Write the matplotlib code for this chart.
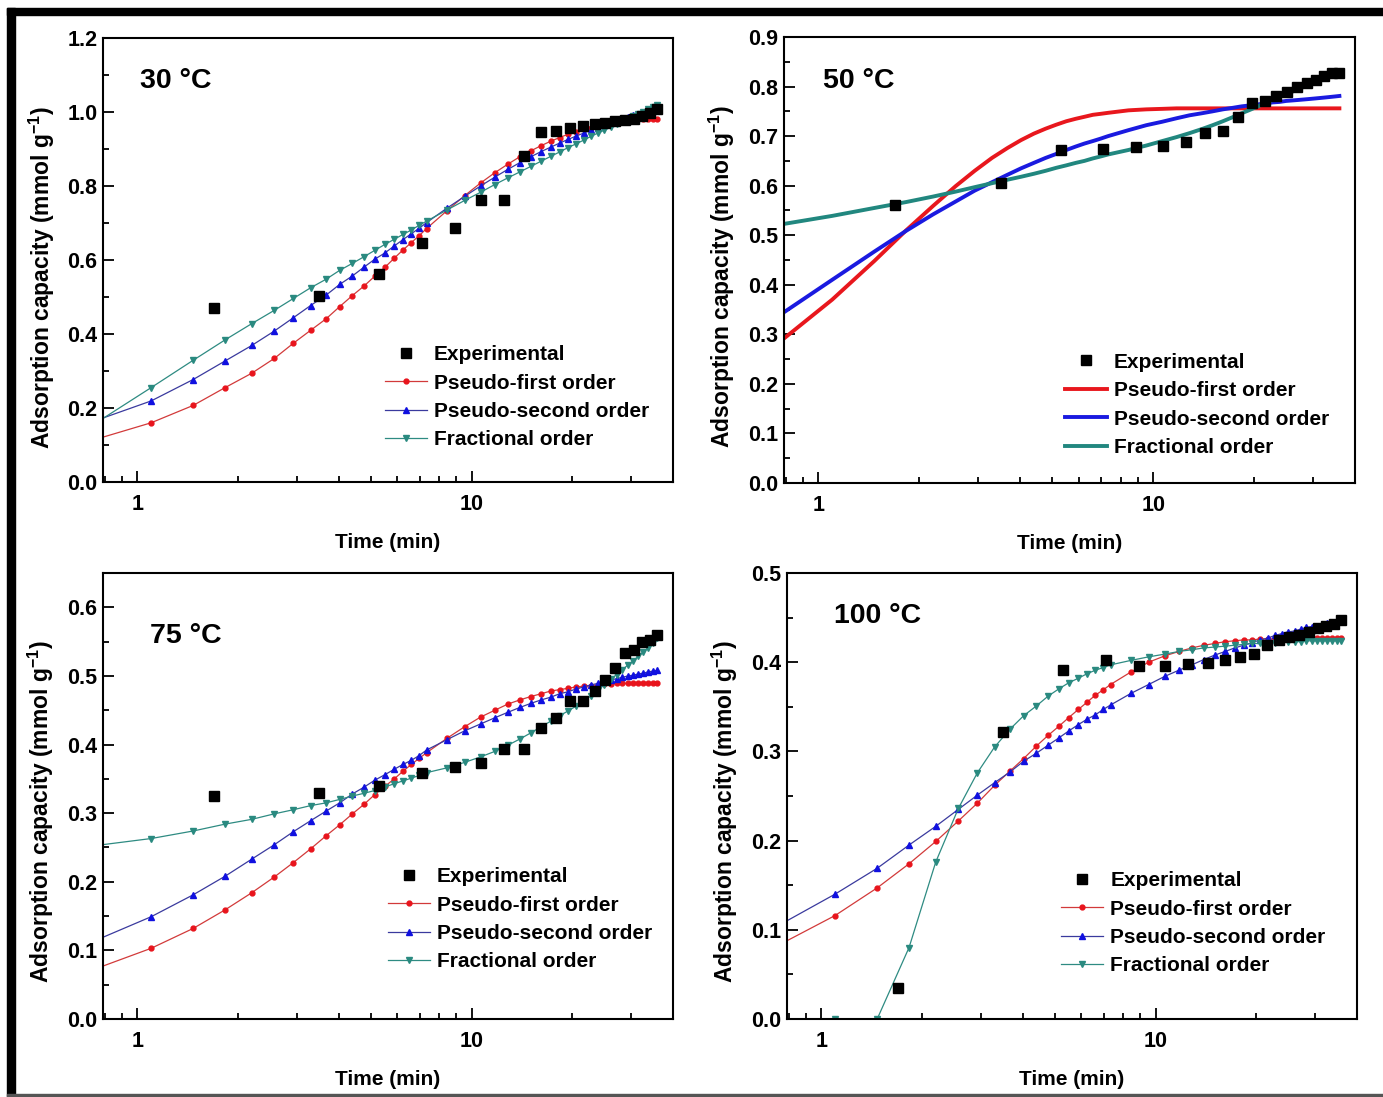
import matplotlib
matplotlib.use("Agg")
import matplotlib.pyplot as plt
from matplotlib.ticker import LogLocator, NullFormatter, FuncFormatter, MultipleLocator
from matplotlib.patches import Rectangle

# time grid of the fitted curves (min)
t_fit = [0.73, 1.10, 1.47, 1.83, 2.20, 2.57, 2.93, 3.30, 3.67, 4.03, 4.40, 4.77,
         5.13, 5.50, 5.87, 6.23, 6.60, 6.97, 7.33, 8.43, 9.53, 10.63, 11.73, 12.83,
         13.93, 15.03, 16.13, 17.23, 18.33, 19.43, 20.53, 21.63, 22.73, 23.83, 24.93,
         26.03, 27.13, 28.23, 29.33, 30.43, 31.53, 32.63, 33.73, 34.83, 35.93]
# experimental sampling times (min)
t_exp = [1.7, 3.5, 5.3, 7.1, 8.9, 10.7, 12.5, 14.3, 16.1, 17.9, 19.7, 21.5, 23.3,
         25.1, 26.9, 28.7, 30.5, 32.3, 34.1, 35.9]

# ---- 30 C
exp_30 = [0.471, 0.502, 0.561, 0.647, 0.687, 0.761, 0.762, 0.880, 0.945, 0.949, 0.957,
          0.963, 0.967, 0.971, 0.975, 0.978, 0.982, 0.989, 0.996, 1.008]
pfo_30 = [0.112, 0.160, 0.207, 0.255, 0.294, 0.334, 0.375, 0.410, 0.441, 0.474, 0.504,
          0.530, 0.556, 0.580, 0.605, 0.627, 0.647, 0.666, 0.685, 0.733, 0.774, 0.808,
          0.836, 0.859, 0.879, 0.895, 0.909, 0.921, 0.931, 0.940, 0.947, 0.953, 0.958,
          0.963, 0.967, 0.970, 0.973, 0.975, 0.977, 0.979, 0.980, 0.981, 0.981, 0.982, 0.982]
pso_30 = [0.162, 0.219, 0.277, 0.327, 0.369, 0.408, 0.444, 0.477, 0.505, 0.534, 0.557,
          0.581, 0.602, 0.619, 0.638, 0.655, 0.671, 0.686, 0.701, 0.740, 0.772, 0.800,
          0.824, 0.845, 0.863, 0.879, 0.893, 0.905, 0.916, 0.926, 0.935, 0.943, 0.951,
          0.958, 0.964, 0.970, 0.976, 0.981, 0.986, 0.991, 0.995, 0.999, 1.002, 1.005, 1.008]
fro_30 = [0.152, 0.255, 0.329, 0.384, 0.428, 0.464, 0.496, 0.525, 0.548, 0.572, 0.591,
          0.609, 0.626, 0.642, 0.656, 0.669, 0.681, 0.694, 0.705, 0.735, 0.761, 0.783,
          0.804, 0.822, 0.838, 0.853, 0.867, 0.880, 0.892, 0.904, 0.914, 0.924, 0.934,
          0.943, 0.951, 0.959, 0.967, 0.974, 0.982, 0.988, 0.995, 1.001, 1.007, 1.013, 1.019]

# ---- 50 C
exp_50 = [0.560, 0.606, 0.672, 0.674, 0.678, 0.681, 0.689, 0.706, 0.710, 0.738, 0.766,
          0.770, 0.781, 0.790, 0.799, 0.807, 0.814, 0.821, 0.827, 0.828]
pfo_50 = [0.273, 0.370, 0.448, 0.510, 0.559, 0.599, 0.630, 0.656, 0.676, 0.692, 0.705,
          0.715, 0.723, 0.730, 0.735, 0.739, 0.743, 0.745, 0.747, 0.752, 0.754, 0.755,
          0.756, 0.756, 0.756, 0.756, 0.756, 0.756, 0.756, 0.756, 0.756, 0.756, 0.756,
          0.756, 0.756, 0.756, 0.756, 0.756, 0.756, 0.756, 0.756, 0.756, 0.756, 0.756, 0.756]
pso_50 = [0.329, 0.410, 0.467, 0.509, 0.542, 0.568, 0.590, 0.607, 0.622, 0.635, 0.646,
          0.656, 0.664, 0.672, 0.679, 0.685, 0.690, 0.695, 0.700, 0.712, 0.722, 0.729,
          0.736, 0.742, 0.746, 0.750, 0.754, 0.757, 0.760, 0.762, 0.764, 0.766, 0.768,
          0.769, 0.771, 0.772, 0.773, 0.774, 0.775, 0.776, 0.777, 0.778, 0.779, 0.780, 0.781]
fro_50 = [0.519, 0.539, 0.555, 0.567, 0.578, 0.588, 0.597, 0.605, 0.612, 0.618, 0.624,
          0.630, 0.636, 0.641, 0.646, 0.650, 0.655, 0.659, 0.663, 0.672, 0.681, 0.690,
          0.698, 0.706, 0.714, 0.722, 0.730, 0.738, 0.746, 0.753, 0.760, 0.767, 0.773,
          0.779, 0.785, 0.790, 0.795, 0.800, 0.805, 0.810, 0.814, 0.818, 0.822, 0.826, 0.830]

# ---- 75 C
exp_75 = [0.325, 0.329, 0.340, 0.359, 0.367, 0.373, 0.393, 0.393, 0.424, 0.438, 0.464,
          0.463, 0.478, 0.494, 0.512, 0.533, 0.538, 0.550, 0.552, 0.559]
pfo_75 = [0.071, 0.103, 0.132, 0.159, 0.184, 0.207, 0.228, 0.248, 0.267, 0.283, 0.299,
          0.313, 0.327, 0.339, 0.350, 0.361, 0.371, 0.380, 0.388, 0.409, 0.426, 0.440,
          0.450, 0.459, 0.465, 0.470, 0.474, 0.478, 0.480, 0.482, 0.484, 0.485, 0.486,
          0.487, 0.488, 0.488, 0.489, 0.489, 0.489, 0.489, 0.490, 0.490, 0.490, 0.490, 0.490]
pso_75 = [0.112, 0.149, 0.181, 0.208, 0.233, 0.254, 0.273, 0.289, 0.303, 0.315, 0.328,
          0.338, 0.348, 0.356, 0.364, 0.371, 0.377, 0.384, 0.392, 0.407, 0.420, 0.430,
          0.439, 0.447, 0.454, 0.460, 0.465, 0.469, 0.474, 0.477, 0.481, 0.484, 0.487,
          0.489, 0.492, 0.494, 0.496, 0.498, 0.500, 0.501, 0.503, 0.504, 0.506, 0.507, 0.508]
fro_75 = [0.252, 0.263, 0.274, 0.284, 0.291, 0.299, 0.305, 0.311, 0.315, 0.320, 0.325,
          0.329, 0.333, 0.338, 0.343, 0.347, 0.351, 0.355, 0.359, 0.366, 0.374, 0.382,
          0.390, 0.399, 0.408, 0.417, 0.426, 0.434, 0.442, 0.449, 0.456, 0.463, 0.471,
          0.479, 0.487, 0.495, 0.502, 0.509, 0.516, 0.522, 0.529, 0.535, 0.541, 0.548, 0.555]

# ---- 100 C
exp_100 = [0.035, 0.322, 0.391, 0.403, 0.396, 0.396, 0.398, 0.399, 0.403, 0.406, 0.409,
           0.419, 0.425, 0.428, 0.430, 0.434, 0.438, 0.441, 0.443, 0.447]
pfo_100 = [0.081, 0.116, 0.147, 0.174, 0.199, 0.222, 0.242, 0.262, 0.278, 0.292, 0.306,
           0.318, 0.328, 0.338, 0.347, 0.355, 0.363, 0.369, 0.375, 0.389, 0.400, 0.407,
           0.412, 0.416, 0.419, 0.421, 0.423, 0.424, 0.425, 0.425, 0.426, 0.426, 0.426,
           0.427, 0.427, 0.427, 0.427, 0.427, 0.427, 0.427, 0.427, 0.427, 0.427, 0.427, 0.427]
pso_100 = [0.103, 0.140, 0.169, 0.195, 0.216, 0.235, 0.251, 0.265, 0.277, 0.289, 0.298,
           0.307, 0.315, 0.323, 0.330, 0.336, 0.341, 0.347, 0.352, 0.365, 0.375, 0.384,
           0.391, 0.397, 0.403, 0.408, 0.412, 0.416, 0.419, 0.422, 0.425, 0.427, 0.430,
           0.432, 0.434, 0.435, 0.437, 0.439, 0.440, 0.441, 0.443, 0.444, 0.445, 0.446, 0.447]
fro_100 = [0.0, 0.0, 0.0, 0.080, 0.176, 0.236, 0.276, 0.305, 0.325, 0.340, 0.351,
           0.362, 0.370, 0.377, 0.382, 0.387, 0.391, 0.394, 0.397, 0.402, 0.406, 0.409,
           0.412, 0.414, 0.416, 0.417, 0.418, 0.419, 0.420, 0.421, 0.421, 0.422, 0.422,
           0.423, 0.423, 0.423, 0.423, 0.424, 0.424, 0.424, 0.424, 0.424, 0.424, 0.424, 0.424]

labels = ['Experimental', 'Pseudo-first order', 'Pseudo-second order', 'Fractional order']

plt.rcParams['font.family'] = ['Liberation Sans', 'DejaVu Sans']
plt.rcParams['font.weight'] = 'bold'
plt.rcParams['mathtext.fontset'] = 'custom'
plt.rcParams['mathtext.rm'] = 'Liberation Sans:bold'
plt.rcParams['mathtext.it'] = 'Liberation Sans:bold'
plt.rcParams['mathtext.default'] = 'rm'

W, H = 1383, 1097
fig = plt.figure(figsize=(W / 100, H / 100), dpi=100)


def box(l, t, r, b):
    return [l / W, 1 - b / H, (r - l) / W, (b - t) / H]


panels = [
    dict(pos=box(103, 38, 673, 482), data=(exp_30, pfo_30, pso_30, fro_30), ymax=1.2,
         major=0.2, minor=0.1, title='30 °C', tpos=(0.065, 0.903), thick=False,
         leg=(0.495, 0.308), ylab=(-0.080, 0.46)),
    dict(pos=box(784, 37, 1355, 483), data=(exp_50, pfo_50, pso_50, fro_50), ymax=0.9,
         major=0.1, minor=0.05, title='50 °C', tpos=(0.068, 0.901), thick=True,
         leg=(0.492, 0.292), ylab=(-0.083, 0.462)),
    dict(pos=box(103, 573, 673, 1019), data=(exp_75, pfo_75, pso_75, fro_75), ymax=0.65,
         major=0.1, minor=0.05, title='75 °C', tpos=(0.082, 0.859), thick=False,
         leg=(0.5, 0.340), ylab=(-0.082, 0.464)),
    dict(pos=box(787, 573, 1357, 1019), data=(exp_100, pfo_100, pso_100, fro_100), ymax=0.5,
         major=0.1, minor=0.05, title='100 °C', tpos=(0.082, 0.904), thick=False,
         leg=(0.481, 0.331), ylab=(-0.083, 0.466)),
]

for p in panels:
    ax = fig.add_axes(p['pos'])
    exp, pfo, pso, fro = p['data']
    ax.plot(t_exp, exp, 's', color='black', ms=7, zorder=5, label=labels[0])
    if p['thick']:
        ax.plot(t_fit, pfo, '-', color='#e8171d', lw=2.8, label=labels[1])
        ax.plot(t_fit, pso, '-', color='#1a1ae0', lw=2.8, label=labels[2])
        ax.plot(t_fit, fro, '-', color='#21877f', lw=2.8, label=labels[3])
    else:
        ax.plot(t_fit, pfo, '-o', color='#d23a3a', mfc='#e8141c', mec='#e8141c',
                ms=3.5, lw=0.9, label=labels[1])
        ax.plot(t_fit, pso, '-^', color='#3a3a9e', mfc='#1010e0', mec='#1010e0',
                ms=5, lw=0.9, label=labels[2])
        ax.plot(t_fit, fro, '-v', color='#2e8b82', mfc='#2a8a80', mec='#2a8a80',
                ms=5, lw=0.9, label=labels[3])

    ax.set_xscale('log')
    ax.set_xlim(0.79, 40)
    ax.set_ylim(0, p['ymax'])
    ax.xaxis.set_major_locator(LogLocator(base=10, numticks=5))
    ax.xaxis.set_minor_locator(LogLocator(base=10, subs=range(2, 10), numticks=20))
    ax.xaxis.set_minor_formatter(NullFormatter())
    ax.xaxis.set_major_formatter(FuncFormatter(lambda v, pos: '%g' % v))
    ax.yaxis.set_major_locator(MultipleLocator(p['major']))
    ax.yaxis.set_minor_locator(MultipleLocator(p['minor']))
    ax.yaxis.set_major_formatter(FuncFormatter(lambda v, pos: '%.1f' % v))
    ax.tick_params(which='both', direction='in', top=False, right=False, width=1.3)
    ax.tick_params(which='major', length=8, labelsize=15.5)
    ax.tick_params(which='minor', length=4.5)
    ax.tick_params(axis='x', which='major', pad=8.5)
    ax.tick_params(axis='y', which='major', pad=4)
    for s in ax.spines.values():
        s.set_linewidth(1.5)

    ax.set_xlabel('Time (min)', fontsize=15, fontweight='bold')
    ax.xaxis.set_label_coords(0.5, -0.115)
    ax.set_ylabel('Adsorption capacity (mmol g$^{-1}$)', fontsize=16.5, fontweight='bold')
    ax.yaxis.set_label_coords(*p['ylab'])

    ax.text(p['tpos'][0], p['tpos'][1], p['title'], transform=ax.transAxes,
            fontsize=20.5, fontweight='bold', ha='left', va='center')

    ax.legend(loc='upper left', bbox_to_anchor=p['leg'], frameon=False,
              fontsize=15, handlelength=2.0, handletextpad=0.35,
              labelspacing=0.45, borderpad=0, borderaxespad=0)

# black frame of the original screenshot
fig.patches.append(Rectangle((7 / W, 1 - 15 / H), 1 - 7 / W, 7 / H, transform=fig.transFigure,
                             color='black', zorder=10))
fig.patches.append(Rectangle((7 / W, 0), 8 / W, 1 - 8 / H, transform=fig.transFigure,
                             color='black', zorder=10))
fig.patches.append(Rectangle((7 / W, 1 / H), 1 - 7 / W, 2 / H, transform=fig.transFigure,
                             color='#555555', zorder=10))

fig.savefig('out.png', dpi=100)
